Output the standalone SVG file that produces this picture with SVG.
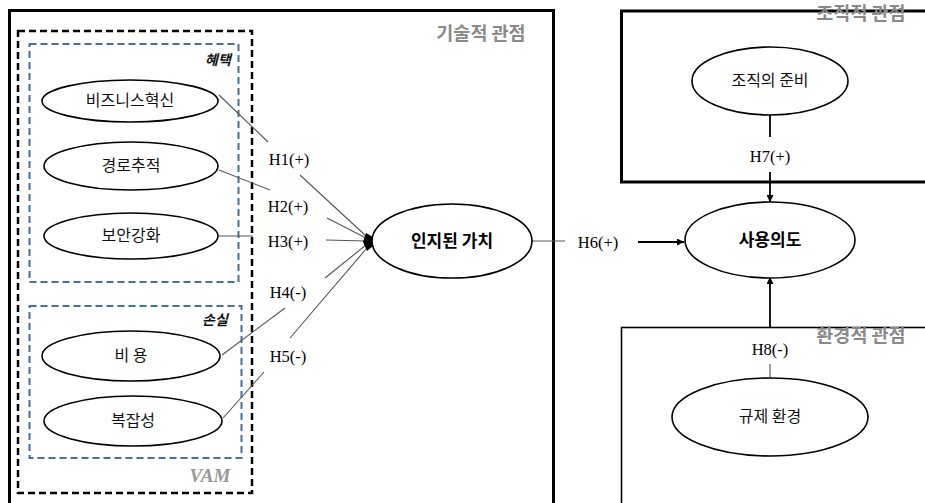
<svg xmlns="http://www.w3.org/2000/svg" width="925" height="503" viewBox="0 0 925 503">
  <defs>
    <style>
      .frame { fill: none; stroke: #000; stroke-width: 3; }
      .frame-thin { fill: none; stroke: #000; stroke-width: 1.6; }
      .vam { fill: none; stroke: #000; stroke-width: 2.5; stroke-dasharray: 7 4; }
      .group { fill: none; stroke: #41719c; stroke-width: 2; stroke-dasharray: 7 4; }
      .node { fill: #fff; stroke: #000; stroke-width: 1.6; }
      .link { fill: none; stroke: #555; stroke-width: 1.1; }
      .link-dark { fill: none; stroke: #000; stroke-width: 1.8; }
      .lbl { font-family: "Noto Sans CJK KR", "Noto Sans", sans-serif; font-size: 16px; fill: #111; text-anchor: middle; }
      .lbl-b { font-family: "Noto Sans CJK KR", "Noto Sans", sans-serif; font-size: 17px; font-weight: bold; fill: #000; text-anchor: middle; }
      .hyp { font-family: "Liberation Serif", "DejaVu Serif", serif; font-size: 16.5px; fill: #000; text-anchor: middle; }
      .view { font-family: "Noto Sans CJK KR", sans-serif; font-size: 18.5px; font-weight: bold; fill: #8a8a8a; text-anchor: middle; }
      .tag { font-family: "Noto Sans CJK KR", sans-serif; font-size: 14px; font-weight: bold; font-style: italic; fill: #111; text-anchor: middle; }
      .vamtxt { font-family: "Liberation Serif", serif; font-size: 19px; font-weight: bold; font-style: italic; fill: #999; text-anchor: middle; }
    </style>
    <marker id="arr" viewBox="0 0 10 10" refX="10" refY="5" markerWidth="7" markerHeight="7" markerUnits="userSpaceOnUse" orient="auto">
      <path d="M0,0 L10,5 L0,10 z" fill="#000"/>
    </marker>
  </defs>

  <!-- perspective frames -->
  <g id="tech-view">
    <rect class="frame" x="9.5" y="10.5" width="544" height="510"/>
    <text class="view" x="481" y="40">기술적 관점</text>
  </g>
  <g id="org-view">
    <rect class="frame" x="621.5" y="11" width="320" height="171"/>
    <text class="view" x="861" y="20">조직적 관점</text>
  </g>
  <g id="env-view">
    <rect class="frame-thin" x="621.5" y="327.5" width="320" height="200"/>
    <text class="view" x="861" y="342">환경적 관점</text>
  </g>

  <!-- VAM grouping -->
  <g id="vam">
    <rect class="vam" x="18" y="31" width="234" height="462"/>
    <text class="vamtxt" x="210" y="482">VAM</text>
  </g>
  <g id="benefit">
    <rect class="group" x="29.5" y="44" width="209" height="238"/>
    <text class="tag" x="218" y="65">혜택</text>
  </g>
  <g id="sacrifice">
    <rect class="group" x="29.5" y="306" width="212" height="152"/>
    <text class="tag" x="215" y="325">손실</text>
  </g>

  <!-- connectors -->
  <g id="connectors">
    <!-- H1 -->
    <path class="link" d="M219,95 L268,142"/>
    <path class="link" d="M300,175 L366,236"/>
    <!-- H2 -->
    <path class="link" d="M219,170 L270,190"/>
    <path class="link" d="M327,218 L366,238"/>
    <!-- H3 -->
    <path class="link" d="M219,236 L253,236"/>
    <path class="link" d="M326,240 L366,241"/>
    <!-- H4 -->
    <path class="link" d="M222,355 L285,308"/>
    <path class="link" d="M325,278 L366,245"/>
    <!-- H5 -->
    <path class="link" d="M223,418 L264,372"/>
    <path class="link" d="M290,338 L367,248"/>
    <!-- merge point -->
    <path d="M366,233 L373,237 L373,246 L367,251 L363,242 z" fill="#000"/>
    <!-- H6 -->
    <path class="link" d="M532,241 L565,241"/>
    <path class="link-dark" d="M638,242 L684,242" marker-end="url(#arr)"/>
    <!-- H7 -->
    <path class="link-dark" d="M770,115 L770,137"/>
    <path class="link-dark" d="M770,172 L770,202" marker-end="url(#arr)"/>
    <!-- H8 -->
    <path class="link-dark" d="M770,327 L770,277" marker-end="url(#arr)"/>
    <path class="link" d="M770,364 L770,378"/>
  </g>

  <!-- hypothesis labels -->
  <g id="hyp-labels">
    <text class="hyp" x="289" y="165">H1(+)</text>
    <text class="hyp" x="288" y="212">H2(+)</text>
    <text class="hyp" x="288" y="247">H3(+)</text>
    <text class="hyp" x="288" y="298">H4(-)</text>
    <text class="hyp" x="288" y="362">H5(-)</text>
    <text class="hyp" x="598" y="248">H6(+)</text>
    <text class="hyp" x="770" y="162">H7(+)</text>
    <text class="hyp" x="770" y="355">H8(-)</text>
  </g>

  <!-- nodes -->
  <g id="n-biz">
    <ellipse class="node" cx="130" cy="101" rx="88" ry="21"/>
    <text class="lbl" x="130" y="106">비즈니스혁신</text>
  </g>
  <g id="n-track">
    <ellipse class="node" cx="131" cy="166" rx="87" ry="24"/>
    <text class="lbl" x="131" y="171">경로추적</text>
  </g>
  <g id="n-security">
    <ellipse class="node" cx="131" cy="236" rx="87" ry="23"/>
    <text class="lbl" x="131" y="241">보안강화</text>
  </g>
  <g id="n-cost">
    <ellipse class="node" cx="131" cy="356" rx="89" ry="25"/>
    <text class="lbl" x="131" y="361">비 용</text>
  </g>
  <g id="n-complex">
    <ellipse class="node" cx="133" cy="421" rx="89" ry="25"/>
    <text class="lbl" x="133" y="426">복잡성</text>
  </g>
  <g id="n-value">
    <ellipse class="node" cx="452" cy="241" rx="80" ry="37"/>
    <text class="lbl-b" x="452" y="247">인지된 가치</text>
  </g>
  <g id="n-intent">
    <ellipse class="node" cx="770" cy="240" rx="85" ry="38"/>
    <text class="lbl-b" x="770" y="246">사용의도</text>
  </g>
  <g id="n-readiness">
    <ellipse class="node" cx="770" cy="81" rx="78" ry="34"/>
    <text class="lbl" x="770" y="86">조직의 준비</text>
  </g>
  <g id="n-regulation">
    <ellipse class="node" cx="770" cy="417" rx="98" ry="39"/>
    <text class="lbl" x="770" y="422">규제 환경</text>
  </g>
</svg>
